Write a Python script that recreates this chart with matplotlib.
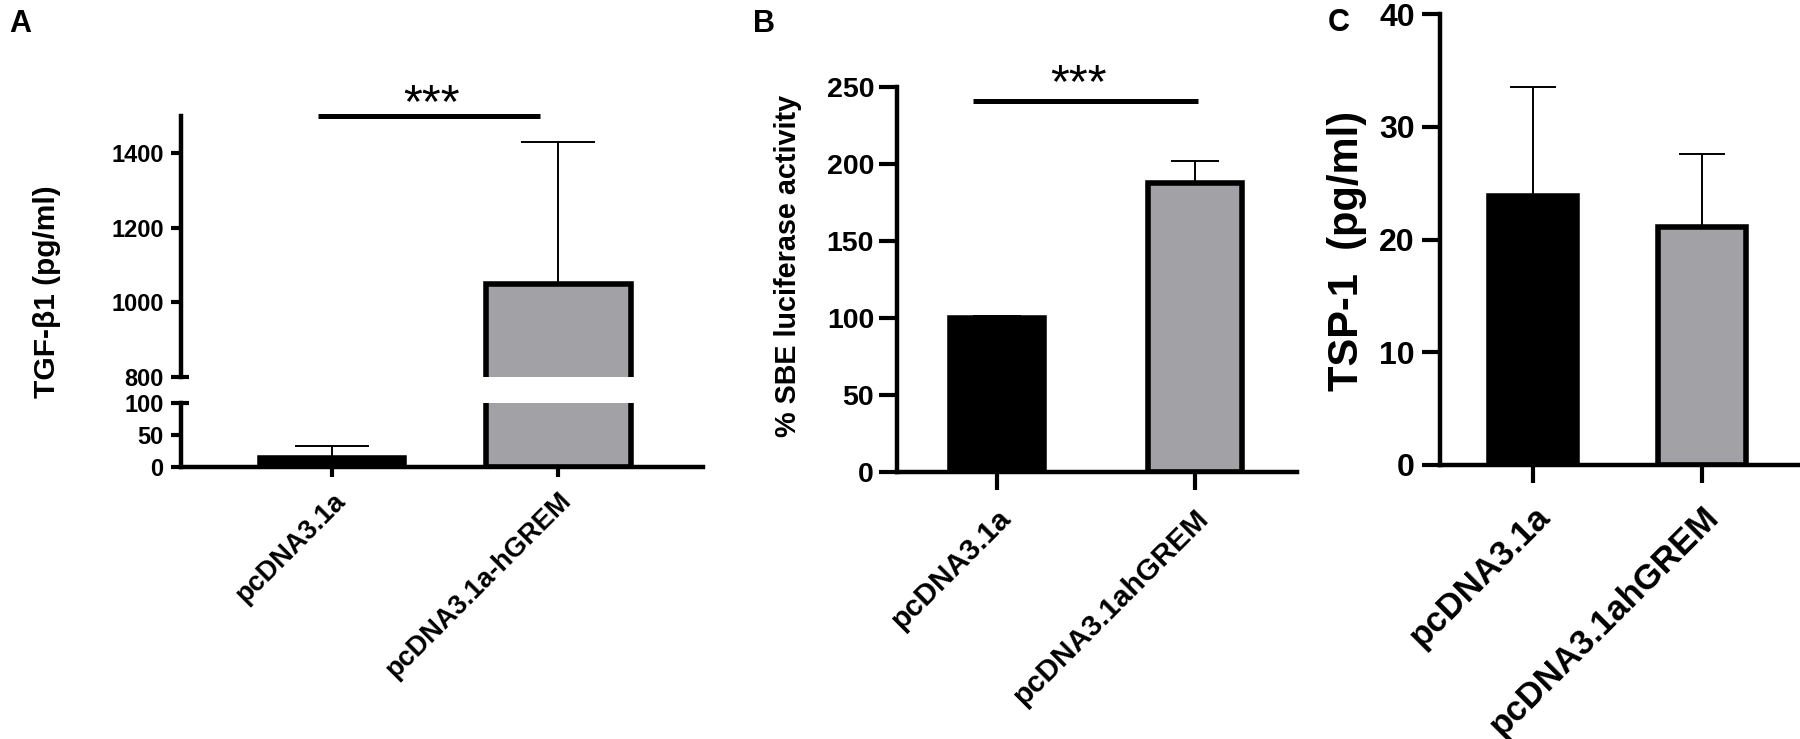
import matplotlib as mpl
mpl.use('Agg')
import matplotlib.pyplot as plt
from matplotlib.transforms import offset_copy

plt.rcParams['font.family'] = ['Liberation Sans', 'DejaVu Sans']
plt.rcParams['font.weight'] = 'bold'

W, H = 1800, 739

# panel A
groups_a = ['pcDNA3.1a', 'pcDNA3.1a-hGREM']
tgf_mean = [14, 1050]
tgf_err = [19, 380]

# panel B
groups_b = ['pcDNA3.1a', 'pcDNA3.1ahGREM']
sbe_mean = [100, 187.5]
sbe_err = [1, 14.5]

# panel C
groups_c = ['pcDNA3.1a', 'pcDNA3.1ahGREM']
tsp_mean = [23.9, 21.1]
tsp_err = [9.6, 6.5]

bar_colors = ['black', '#a2a1a6']

fig = plt.figure(figsize=(W / 100, H / 100), dpi=100)


def px_axes(x0, y0, x1, y1):
    return fig.add_axes([x0 / W, 1 - y1 / H, (x1 - x0) / W, (y1 - y0) / H])


def draw_bars(ax, mean, err, width, cap):
    x = list(range(len(mean)))
    ax.errorbar(x, mean, yerr=[[0] * len(mean), err], fmt='none', ecolor='black',
                elinewidth=1.4, capsize=cap, capthick=1.4, zorder=1)
    ax.bar(x, mean, width=width, color=bar_colors, edgecolor='black',
           linewidth=4, zorder=2)


def style(ax, tick_len, lab_size, pad):
    for s in ['top', 'right']:
        ax.spines[s].set_visible(False)
    for s in ['left', 'bottom']:
        ax.spines[s].set_linewidth(3.2)
    ax.tick_params(axis='both', width=3, length=tick_len, labelsize=lab_size)
    ax.tick_params(axis='y', pad=pad)


def xlabels(ax, groups, size, pad):
    ax.set_xticks(range(len(groups)))
    ax.set_xticklabels(groups, rotation=45, ha='right', va='top',
                       rotation_mode='anchor', fontsize=size, fontweight='bold')
    ax.tick_params(axis='x', pad=pad)


def sig(ax, x0, x1, y, tx, drop):
    ax.plot([x0, x1], [y, y], color='black', lw=3.6, clip_on=False, solid_capstyle='butt')
    tr = offset_copy(ax.transData, fig=fig, x=0, y=-drop, units='dots')
    ax.text(tx, y, '***', transform=tr, ha='center', va='baseline',
            fontsize=35, fontweight='normal', clip_on=False)


# ---------- A (broken axis) ----------
ax_top = px_axes(181, 116, 703, 377)
ax_bot = px_axes(181, 403, 703, 467)
for ax in (ax_top, ax_bot):
    draw_bars(ax, tgf_mean, tgf_err, 0.64, 26.5)
    ax.set_xlim(-0.667, 1.64)
    style(ax, 7, 17, 5.5)

ax_top.set_ylim(800, 1500)
ax_top.set_yticks([800, 1000, 1200, 1400])
ax_top.spines['bottom'].set_visible(False)
ax_top.tick_params(axis='x', bottom=False, labelbottom=False)
ax_top.plot([0, 8 / 522], [800, 800], transform=ax_top.get_yaxis_transform(),
            color='black', lw=3, clip_on=False, solid_capstyle='butt')

ax_bot.set_ylim(0, 100)
ax_bot.set_yticks([0, 50, 100])
ax_bot.plot([0, 8 / 522], [100, 100], transform=ax_bot.get_yaxis_transform(),
            color='black', lw=3, clip_on=False, solid_capstyle='butt')
xlabels(ax_bot, groups_a, 19.5, 8)
sig(ax_top, -0.06, 0.92, 1500, 0.44, 1)
fig.text(47 / W, 1 - 292 / H, 'TGF-\u03b21 (pg/ml)', rotation=90, ha='center', va='center',
         fontsize=21.5, fontweight='bold')
fig.text(20 / W, 1 - 24 / H, 'A', ha='center', va='center', fontsize=22, fontweight='bold')

# ---------- B ----------
ax_b = px_axes(897, 87, 1297, 472)
draw_bars(ax_b, sbe_mean, sbe_err, 0.47, 17.3)
ax_b.set_xlim(-0.505, 1.515)
ax_b.set_ylim(0, 250)
ax_b.set_yticks([0, 50, 100, 150, 200, 250])
style(ax_b, 13, 20.5, 3.5)
xlabels(ax_b, groups_b, 21.3, 10)
sig(ax_b, -0.12, 1.015, 241, 0.41, -4)
fig.text(788 / W, 1 - 266 / H, '% SBE luciferase activity', rotation=90, ha='center', va='center',
         fontsize=20.7, fontweight='bold')
fig.text(764 / W, 1 - 24 / H, 'B', ha='center', va='center', fontsize=22, fontweight='bold')

# ---------- C ----------
ax_c = px_axes(1440, 14, 1798, 465)
draw_bars(ax_c, tsp_mean, tsp_err, 0.52, 16.5)
ax_c.set_xlim(-0.55, 1.57)
ax_c.set_ylim(0, 40)
ax_c.set_yticks([0, 10, 20, 30, 40])
style(ax_c, 13, 23, 5)
xlabels(ax_c, groups_c, 25, 12)
fig.text(1347 / W, 1 - 251 / H, 'TSP-1  (pg/ml)', rotation=90, ha='center', va='center',
         fontsize=30, fontweight='bold')
fig.text(1339 / W, 1 - 23 / H, 'C', ha='center', va='center', fontsize=22, fontweight='bold')

fig.savefig('out.png', dpi=100)
